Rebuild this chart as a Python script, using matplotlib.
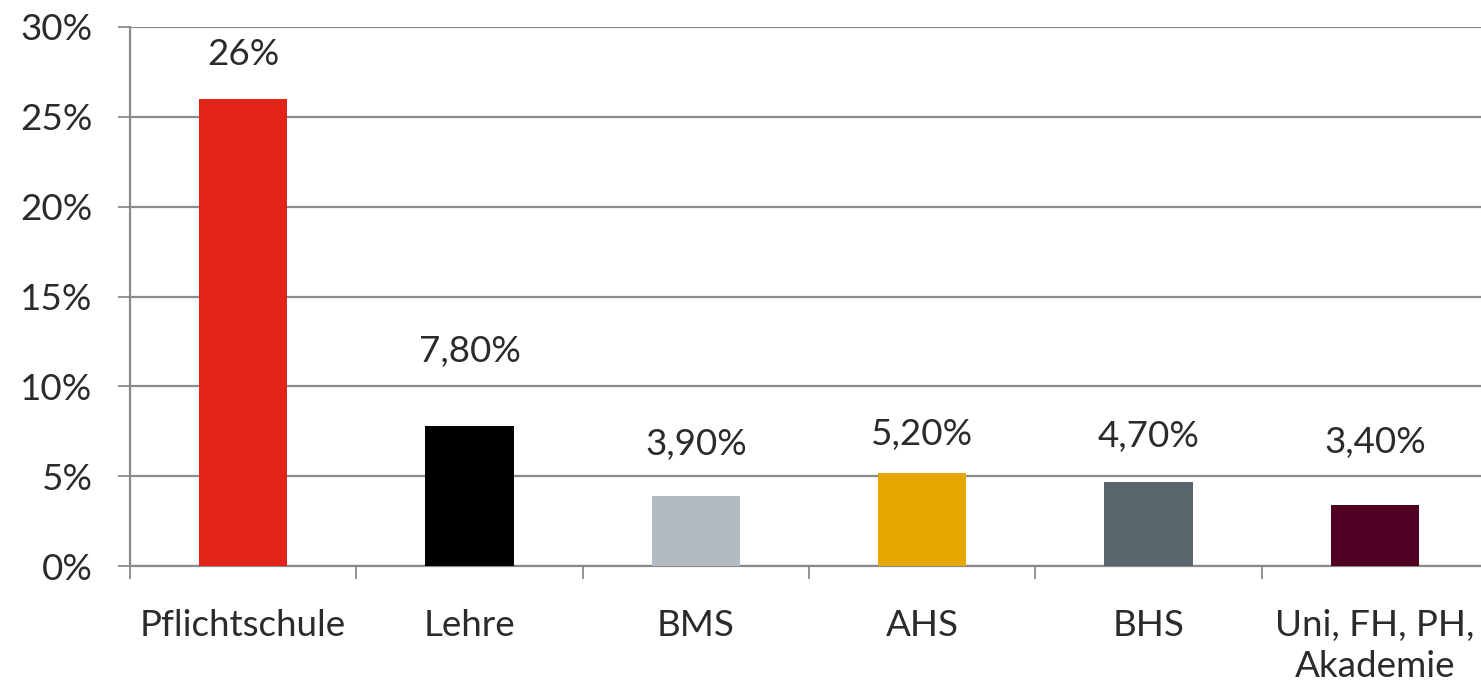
import numpy as np
import matplotlib.pyplot as plt

kategorien = ["Pflichtschule", "Lehre", "BMS", "AHS", "BHS", "Uni, FH, PH,\nAkademie"]
anteile = [26, 7.8, 3.9, 5.2, 4.7, 3.4]
beschriftung = ["26%", "7,80%", "3,90%", "5,20%", "4,70%", "3,40%"]
farben = ["#E2231A", "#000000", "#B3BBC1", "#E6A800", "#59666B", "#4F0022"]
y_ticks = [0, 5, 10, 15, 20, 25, 30]

# abstand der beschriftung ueber dem balken (pixel)
abstand = [44, 74, 51, 38, 45, 62]

plt.rcParams['font.family'] = ['Lato', 'DejaVu Sans']

fig = plt.figure(figsize=(14.81, 6.90), dpi=100)
ax = fig.add_axes([130 / 1481, (690 - 566) / 690, (1488 - 130) / 1481, (566 - 27) / 690])

x = np.arange(len(kategorien))
ax.bar(x, anteile, width=0.39, color=farben, zorder=3)

for i in range(len(x)):
    ax.annotate(beschriftung[i], (x[i], anteile[i]), xytext=(0, abstand[i]),
                textcoords="offset pixels", ha="center", va="center",
                fontsize=26.5, color="#2b2b2b")

ax.set_xlim(-0.5, len(kategorien) - 0.5)
ax.set_ylim(0, 30)
ax.set_yticks(y_ticks)
ax.set_yticklabels([f"{t}%" for t in y_ticks])
ax.set_xticks(x)
ax.set_xticklabels(kategorien, linespacing=1.3)
ax.set_xticks(np.arange(len(kategorien) + 1) - 0.5, minor=True)

ax.grid(axis="y", color="#8a8a8a", linewidth=1.6, zorder=0)
ax.tick_params(axis="x", which="major", length=0, pad=31, labelsize=26.5, labelcolor="#2b2b2b")
ax.tick_params(axis="x", which="minor", length=9, width=1.3, color="#8a8a8a")
ax.tick_params(axis="y", length=9, width=1.3, color="#8a8a8a", pad=18, labelsize=26.5, labelcolor="#2b2b2b")

for s in ["top", "right"]:
    ax.spines[s].set_visible(False)
for s in ["left", "bottom"]:
    ax.spines[s].set_color("#8a8a8a")
    ax.spines[s].set_linewidth(1.6)

fig.savefig("out.png", dpi=100)
